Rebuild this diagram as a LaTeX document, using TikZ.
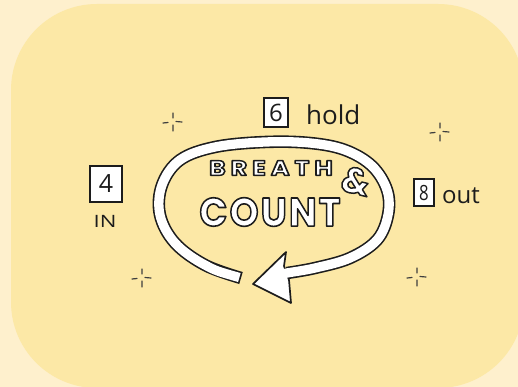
\documentclass[tikz,border=0pt]{standalone}
\usepackage{fontspec}
\usepackage{graphicx}
\setmainfont{Open Sans}
\newfontfamily\titlefont{Poppins}
\usetikzlibrary{calc}
\definecolor{bgout}{HTML}{FEF0CD}
\definecolor{bgin}{HTML}{FCE8A6}
\definecolor{ink}{HTML}{1C1C1C}
\tikzset{
  numbox/.style={draw=ink, fill=white, line width=2.3pt, inner sep=0pt, text=ink},
  lbl/.style={text=ink, inner sep=0pt},
  sparkstroke/.style={draw=ink!85, line width=1.2pt, line cap=round},
  sparkle/.pic={\draw[sparkstroke] (-10,1) -- (-5,0.5) (3,-0.5) -- (9,0) (0,-9) -- (0,-4) (0,3) -- (0,9);},
  inl/.style={text=white, inner sep=0pt}
}
\newcommand{\olt}[2]{\special{pdf:literal direct 2 Tr #1 w 0.11 0.11 0.11 RG 1 j}#2\special{pdf:literal direct 0 Tr 0.4 w}}
\begin{document}
\begin{tikzpicture}[x=1pt,y=-1pt]
\useasboundingbox (0,0) rectangle (518,387);
\fill[bgout] (0,0) rectangle (518,387);
\begin{scope}
\clip (0,0) rectangle (518,387);
\fill[bgin, rounded corners=86pt] (11,4) rectangle (524,388);
\end{scope}

% sparkles
\pic (spA) at (173,122) {sparkle};
\pic (spB) at (440,132) {sparkle};
\pic (spC) at (142,278) {sparkle};
\pic (spD) at (417,277) {sparkle};

% band (loop arrow)
\draw[ink, line width=12.5pt] plot[smooth, tension=0.6] coordinates {(241,278) (205,265) (175,243) (160,215) (162,185) (180,160) (215,147) (265,142) (310,143) (345,150) (372,166) (387,190) (388,215) (377,240) (350,258) (315,268) (287,273)};
\draw[ink, line width=1.7pt, fill=white, line join=round] (253,284) -- (286,252) -- (284,266) -- (289,280) -- (291,303) -- cycle;
\draw[white, line width=9.3pt, shorten <=1.7pt] plot[smooth, tension=0.6] coordinates {(241,278) (205,265) (175,243) (160,215) (162,185) (180,160) (215,147) (265,142) (310,143) (345,150) (372,166) (387,190) (388,215) (377,240) (350,258) (315,268) (287,273) (281,274.5)};

% number boxes and labels
\node[numbox, minimum width=32pt, minimum height=36pt, font=\fontsize{25}{25}\selectfont] (four) at (106,184) {4};
\node[lbl, font=\fontsize{17}{17}\selectfont] (in) at (105,221) {\scalebox{1.3}[1]{IN}};
\node[numbox, minimum width=24pt, minimum height=29pt, font=\fontsize{24}{24}\selectfont] (six) at (276,112.5) {6};
\node[lbl, anchor=base west, font=\fontsize{26}{26}\selectfont] (hold) at (306,125) {hold};
\node[numbox, minimum width=20pt, minimum height=27pt, font=\fontsize{21}{21}\selectfont] (eight) at (424,192.5) {\scalebox{0.8}[1]{8}};
\node[lbl, anchor=base west, font=\fontsize{24}{24}\selectfont] (out) at (442,203) {out};

% outlined title text
\node[inl, font=\titlefont\bfseries\fontsize{21}{21}\selectfont] (breath) at (271,168) {\olt{1.4}{\scalebox{1.2}[1]{\addfontfeature{LetterSpace=20}BREATH}}};
\node[inl, rotate=-14, font=\titlefont\bfseries\fontsize{36}{36}\selectfont] (amp) at (356,181) {\olt{1.5}{\&}};
\node[inl, font=\titlefont\bfseries\fontsize{40}{40}\selectfont] (count) at (270,212) {\olt{1.6}{\scalebox{0.92}[1]{\addfontfeature{LetterSpace=6}COUNT}}};
\end{tikzpicture}
\end{document}
